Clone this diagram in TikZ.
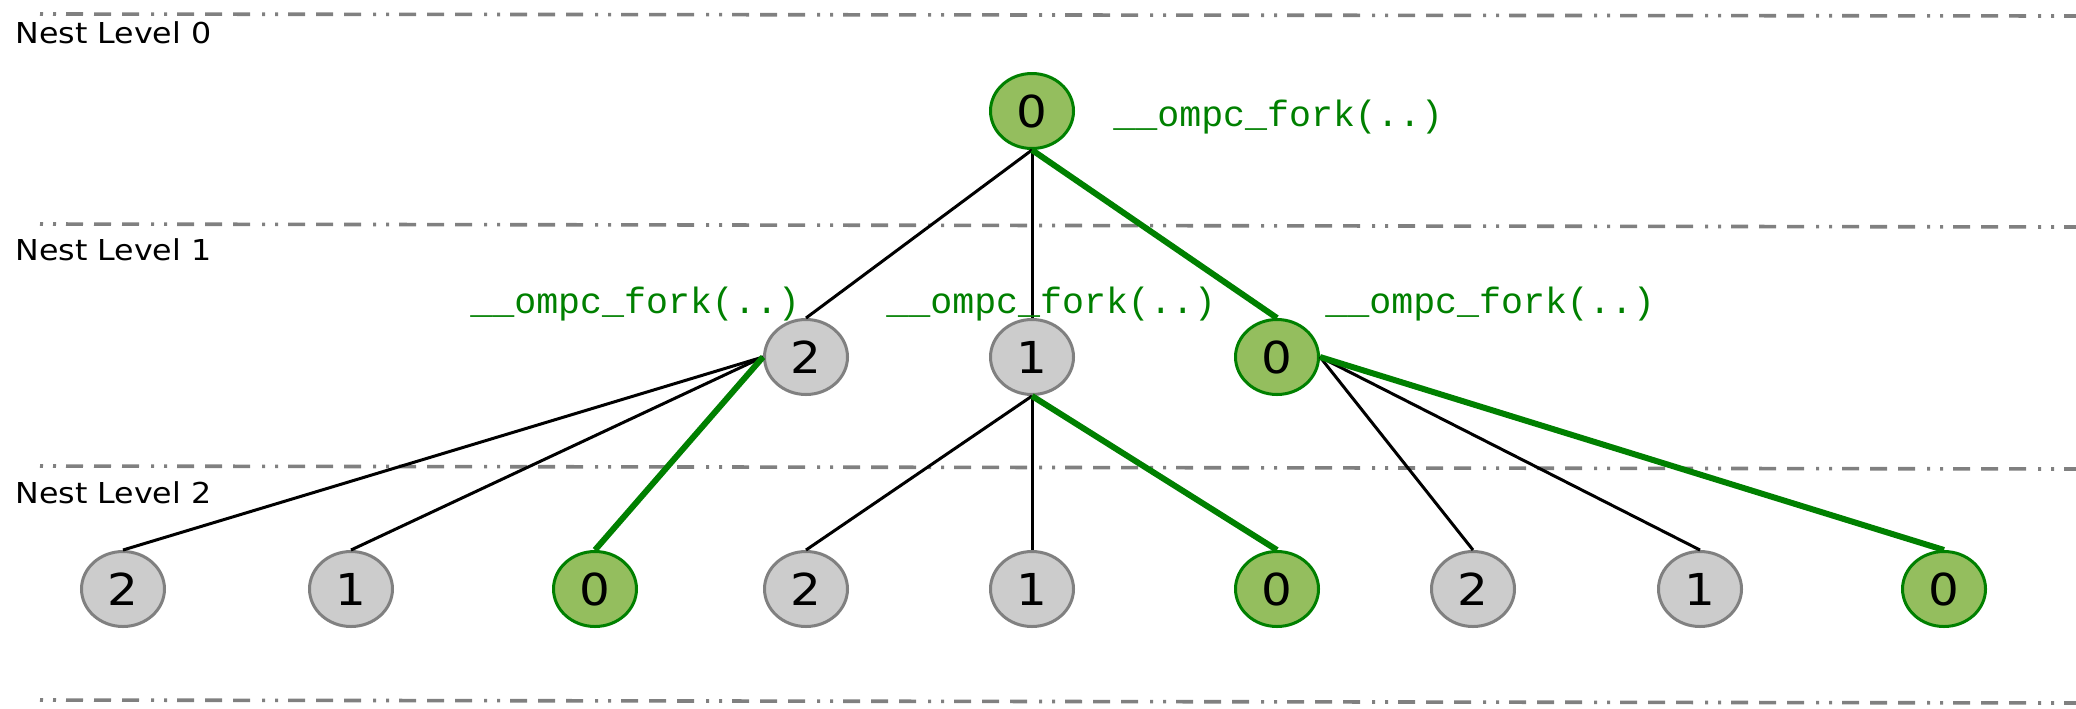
\documentclass[tikz,border=0pt]{standalone}
\usepackage{fontspec}
\setmainfont{DejaVu Sans}[FakeStretch=1.1]
\setmonofont{Liberation Mono}
\usetikzlibrary{shapes.geometric}

\definecolor{forkgreen}{RGB}{0,128,0}
\definecolor{masterfill}{RGB}{148,190,94}
\definecolor{workerfill}{RGB}{204,204,204}
\definecolor{levelgray}{RGB}{128,128,128}

\tikzset{
    thread/.style={ellipse, draw=levelgray, fill=workerfill, line width=1.5pt,
        inner sep=0pt, minimum width=41.5pt, minimum height=37.5pt,
        font=\fontsize{22}{22}\selectfont},
    master/.style={thread, draw=forkgreen, fill=masterfill},
    spawn/.style={line width=1.5pt},
    masterpath/.style={line width=3pt, draw=forkgreen},
    forklabel/.style={anchor=base west, inner sep=0pt, text=forkgreen,
        font=\ttfamily\fontsize{18.3}{19}\selectfont},
    levelline/.style={levelgray, line width=1.8pt,
        dash pattern=on 1.5pt off 5pt on 1.5pt off 5pt on 8.5pt off 5.5pt on 8.5pt off 5.5pt on 8.5pt off 6pt},
    levellabel/.style={anchor=base west, inner sep=0pt,
        font=\fontsize{14.4}{15}\selectfont},
}

\begin{document}
\begin{tikzpicture}[x=0.5pt, y=-0.5pt]
    \useasboundingbox (0,0) rectangle (2076,708);
    % nest levels
    \foreach \ya/\yb/\yl/\lvl in {14/16/43/0, 224/227/260/1, 466/469/503/2} {%
        \draw[levelline] (40,\ya) -- (2076,\yb);
        \node[levellabel] (lvl\lvl) at (15,\yl) {Nest Level \lvl};
    }
    \draw[levelline] (40,700) -- (2076,703);

    % threads
    \node[master] (t0) at (1032,111) {0};
    \node[thread] (t02) at (806,357) {2};
    \node[thread] (t01) at (1032,357) {1};
    \node[master] (t00) at (1277,357) {0};
    \foreach \name/\x/\id in {t022/123/2, t021/351/1, t012/806/2, t011/1032/1, t002/1473/2, t001/1700/1} {%
        \node[thread] (\name) at (\x,589) {\id};
    }
    \foreach \name/\x in {t020/595, t010/1277, t000/1944} {%
        \node[master] (\name) at (\x,589) {0};
    }

    % forks
    \draw[spawn] (t0.south) -- (t02.north);
    \draw[spawn] (t0.south) -- (t01.north);
    \draw[masterpath] (t0.south) -- (t00.north);
    \foreach \c in {t022, t021} {\draw[spawn] (t02.west) -- (\c.north);}
    \draw[masterpath] (t02.west) -- (t020.north);
    \foreach \c in {t012, t011} {\draw[spawn] (t01.south) -- (\c.north);}
    \draw[masterpath] (t01.south) -- (t010.north);
    \foreach \c in {t002, t001} {\draw[spawn] (t00.east) -- (\c.north);}
    \draw[masterpath] (t00.east) -- (t000.north);

    % fork calls
    \node[forklabel] (f0) at (1113,126) {\_\_ompc\_fork(..)};
    \node[forklabel] (f02) at (470,313) {\_\_ompc\_fork(..)};
    \node[forklabel] (f01) at (886,313) {\_\_ompc\_fork(..)};
    \node[forklabel] (f00) at (1325,313) {\_\_ompc\_fork(..)};
\end{tikzpicture}
\end{document}
